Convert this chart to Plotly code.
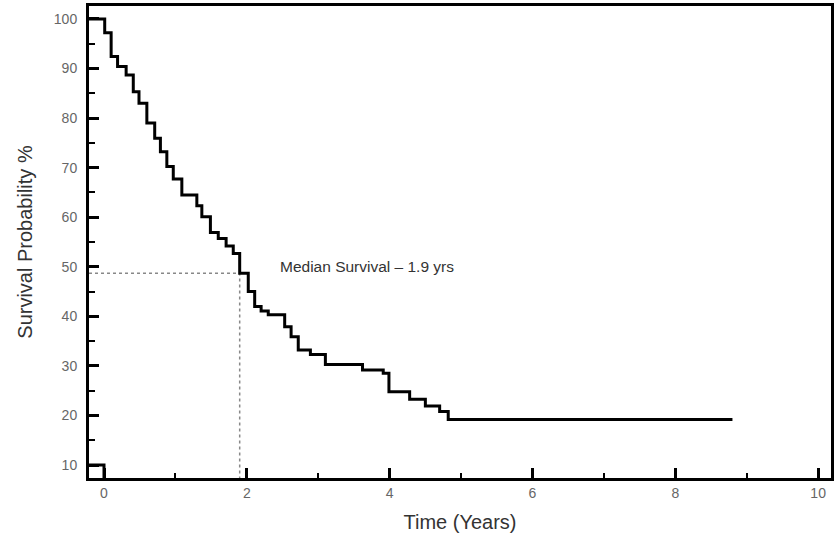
import plotly.graph_objects as go

# Kaplan-Meier step curve: time at which each survival level begins
times = [-0.21, 0.01, 0.10, 0.19, 0.31, 0.41, 0.49, 0.60, 0.71, 0.79, 0.88, 0.97,
         1.09, 1.30, 1.37, 1.49, 1.60, 1.71, 1.81, 1.90, 2.02, 2.11, 2.20, 2.30,
         2.53, 2.62, 2.72, 2.89, 3.10, 3.62, 3.91, 3.99, 4.28, 4.50, 4.70, 4.82, 8.80]
survival = [100, 97.2, 92.4, 90.4, 88.7, 85.3, 83.0, 79.0, 75.9, 73.2, 70.2, 67.7,
            64.5, 62.3, 60.1, 56.9, 55.7, 54.2, 52.7, 48.7, 45.0, 42.0, 41.1, 40.3,
            37.9, 35.9, 33.2, 32.3, 30.3, 29.2, 28.5, 24.8, 23.3, 21.9, 20.8, 19.2, 19.2]

# small second segment near origin
low_times = [-0.21, 0.0, 0.0]
low_vals = [10, 10, 7.4]

median_time = 1.9
median_surv = 48.7

x_ticks = [0, 2, 4, 6, 8, 10]
y_ticks = [10, 20, 30, 40, 50, 60, 70, 80, 90, 100]

x_range = [-0.21, 10.18]
y_range = [7.39, 102.6]

fig = go.Figure()

# dotted median guide lines
fig.add_trace(go.Scatter(x=[x_range[0], median_time, median_time],
                         y=[median_surv, median_surv, y_range[0]],
                         mode="lines", line=dict(color="#888888", width=1.5, dash="dot"),
                         hoverinfo="skip", showlegend=False))

fig.add_trace(go.Scatter(x=times, y=survival, mode="lines", line_shape="hv",
                         line=dict(color="black", width=3), showlegend=False))
fig.add_trace(go.Scatter(x=low_times, y=low_vals, mode="lines",
                         line=dict(color="black", width=3), showlegend=False))

fig.add_annotation(x=2.43, y=50.0, text="Median Survival – 1.9 yrs", showarrow=False,
                   xanchor="left", yanchor="middle",
                   font=dict(family="Liberation Sans, Arial", size=15.5, color="#333333"))

axis_font = dict(family="Liberation Sans, Arial", size=14, color="#666666")
title_font = dict(family="Liberation Sans, Arial", size=20, color="#333333")

fig.update_xaxes(range=x_range, tickvals=x_ticks, ticktext=[str(v) for v in x_ticks],
                 ticks="inside", ticklen=10, tickwidth=3, tickcolor="black",
                 minor=dict(dtick=1, tick0=0, ticks="inside", ticklen=5, tickwidth=2, tickcolor="black"),
                 showline=True, linecolor="black", linewidth=3, mirror=True,
                 showgrid=False, zeroline=False, tickfont=axis_font, automargin=False,
                 title=dict(text="Time (Years)", font=title_font, standoff=16))
fig.update_yaxes(range=y_range, tickvals=y_ticks, ticktext=[str(v) for v in y_ticks],
                 ticks="inside", ticklen=10, tickwidth=3, tickcolor="black",
                 minor=dict(dtick=10, tick0=5, ticks="inside", ticklen=6, tickwidth=2, tickcolor="black"),
                 showline=True, linecolor="black", linewidth=3, mirror=True,
                 showgrid=False, zeroline=False, tickfont=axis_font, automargin=False,
                 ticklabelstandoff=6,
                 title=dict(text="Survival Probability %", font=title_font, standoff=16))

fig.update_layout(width=836, height=539, margin=dict(l=89, r=5, t=6, b=61),
                  plot_bgcolor="white", paper_bgcolor="white", showlegend=False)

fig.write_html("out.html", config={"displayModeBar": False},
               post_script="document.body.style.margin='0px';document.body.style.overflow='hidden';")
